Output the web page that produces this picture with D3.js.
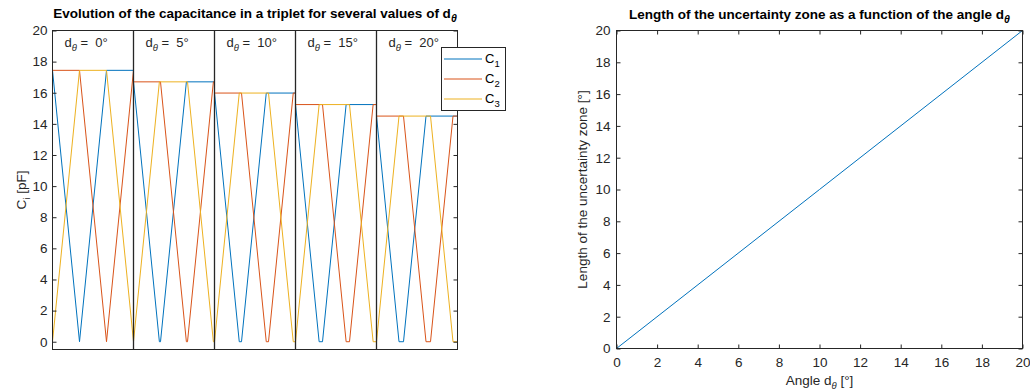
<!DOCTYPE html>
<html>
<head>
<meta charset="utf-8">
<script src="https://cdn.jsdelivr.net/npm/d3@7"></script>
<style>
  body { margin: 0; background: #fff; }
  svg { display: block; font-family: "Liberation Sans", Arial, Helvetica, sans-serif; }
</style>
</head>
<body>
<div id="chart"></div>
<script>
// ---- data ----
// left panel: one 360° block per value of d_theta, vertices [angle, C (pF)]
var deadZones = [0, 5, 10, 15, 20];
var blockSpan = 360;
var c1Points = [
    [0, 17.44], [120, 0], [240, 17.44], [360, 17.44],
    [360, 16.7], [475, 0], [480, 0], [595, 16.7], [720, 16.7],
    [720, 15.98], [830, 0], [840, 0], [950, 15.98], [1080, 15.98],
    [1080, 15.24], [1185, 0], [1200, 0], [1305, 15.24], [1440, 15.24],
    [1440, 14.5], [1540, 0], [1560, 0], [1660, 14.5], [1800, 14.5]
];
var c2Points = [
    [0, 17.44], [120, 17.44], [240, 0], [360, 17.44],
    [360, 16.7], [480, 16.7], [595, 0], [600, 0], [715, 16.7], [720, 16.7],
    [720, 15.98], [840, 15.98], [950, 0], [960, 0], [1070, 15.98], [1080, 15.98],
    [1080, 15.24], [1200, 15.24], [1305, 0], [1320, 0], [1425, 15.24], [1440, 15.24],
    [1440, 14.5], [1560, 14.5], [1660, 0], [1680, 0], [1780, 14.5], [1800, 14.5]
];
var c3Points = [
    [0, 0], [120, 17.44], [240, 17.44], [360, 0],
    [360, 0], [475, 16.7], [600, 16.7], [715, 0], [720, 0],
    [720, 0], [830, 15.98], [960, 15.98], [1070, 0], [1080, 0],
    [1080, 0], [1185, 15.24], [1320, 15.24], [1425, 0], [1440, 0],
    [1440, 0], [1540, 14.5], [1680, 14.5], [1780, 0], [1800, 0]
];
var seriesNames = ['1', '2', '3'];
var capTicks = [0, 2, 4, 6, 8, 10, 12, 14, 16, 18, 20];

// right panel: uncertainty zone length vs angle
var angles = [0, 5, 10, 15, 20];
var zoneLengths = [0, 5, 10, 15, 20];
var angleTicks = [0, 2, 4, 6, 8, 10, 12, 14, 16, 18, 20];
var lengthTicks = [0, 2, 4, 6, 8, 10, 12, 14, 16, 18, 20];

(function() {
    'use strict';

    var width = 1030, height = 392;
    var axisColor = '#262626';
    var colors = ['#0072bd', '#d95319', '#edb120'];
    var tickSize = 13.5;
    var labelSize = 13.5;
    var subSize = 9.5;

    var svg = d3.select('#chart').append('svg')
        .attr('width', width)
        .attr('height', height);

    function styleAxis(g) {
        g.attr('font-size', tickSize)
            .attr('font-family', null)
            .style('color', axisColor);
        g.select('.domain').remove();
    }

    // text with a subscript: parts = [[text, isSub, italic], ...]
    function richText(el, parts, sub, bold) {
        var down = false;
        parts.forEach(function(p) {
            var t = el.append('tspan').text(p[0]);
            if (p[1] && !down) { t.attr('dy', 4); down = true; }
            else if (!p[1] && down) { t.attr('dy', -4); down = false; }
            if (p[1]) t.attr('font-size', sub);
            if (p[2]) t.attr('font-style', 'italic');
        });
        if (bold) el.attr('font-weight', 'bold');
        return el;
    }

    // ---------- left panel ----------
    var L = { left: 52.5, right: 457.5, top: 30.5, bottom: 349.5 };
    var x1 = d3.scaleLinear().domain([0, blockSpan * deadZones.length]).range([L.left, L.right]);
    var y1 = d3.scaleLinear().domain([-0.5, 20]).range([L.bottom, L.top]);

    var left = svg.append('g');

    var line1 = d3.line()
        .x(function(d) { return x1(d[0]); })
        .y(function(d) { return y1(d[1]); });

    [c1Points, c2Points, c3Points].forEach(function(pts, i) {
        left.append('path')
            .datum(pts)
            .attr('d', line1)
            .attr('fill', 'none')
            .attr('stroke', colors[i])
            .attr('stroke-width', 1);
    });

    // block separators
    left.append('g')
        .selectAll('line')
        .data(deadZones.slice(1))
        .join('line')
        .attr('x1', function(d, i) { return x1((i + 1) * blockSpan); })
        .attr('x2', function(d, i) { return x1((i + 1) * blockSpan); })
        .attr('y1', L.top)
        .attr('y2', L.bottom)
        .attr('stroke', axisColor)
        .attr('stroke-width', 1.3);

    // block labels
    deadZones.forEach(function(d, i) {
        var t = left.append('text')
            .attr('x', x1(i * blockSpan) + 12)
            .attr('y', 47)
            .attr('font-size', 13)
            .attr('fill', axisColor);
        richText(t, [['d'], ['\u03b8', true, true], [' = \u00a0' + d + '\u00b0']], subSize);
    });

    left.append('g')
        .attr('transform', 'translate(' + L.left + ',0)')
        .call(d3.axisLeft(y1).tickValues(capTicks).tickSize(-4).tickPadding(5))
        .call(styleAxis);
    left.append('g')
        .attr('transform', 'translate(' + L.right + ',0)')
        .call(d3.axisRight(y1).tickValues(capTicks).tickSize(-4).tickFormat(''))
        .call(styleAxis);

    left.append('rect')
        .attr('x', L.left).attr('y', L.top)
        .attr('width', L.right - L.left).attr('height', L.bottom - L.top)
        .attr('fill', 'none')
        .attr('stroke', axisColor);

    var leftTitle = left.append('text')
        .attr('x', (L.left + L.right) / 2)
        .attr('y', 18)
        .attr('text-anchor', 'middle')
        .attr('font-size', labelSize)
        .attr('fill', '#000');
    richText(leftTitle, [['Evolution of the capacitance in a triplet for several values of d'], ['\u03b8', true, true]], 10.5, true);

    var leftYLabel = left.append('text')
        .attr('transform', 'translate(26,' + ((L.top + L.bottom) / 2) + ') rotate(-90)')
        .attr('text-anchor', 'middle')
        .attr('font-size', labelSize)
        .attr('fill', axisColor);
    richText(leftYLabel, [['C'], ['i', true], [' [pF]']], subSize);

    // legend
    var lg = left.append('g');
    lg.append('rect')
        .attr('x', 441.5).attr('y', 47.5)
        .attr('width', 64).attr('height', 63)
        .attr('fill', '#fff')
        .attr('stroke', axisColor);
    seriesNames.forEach(function(n, i) {
        var yy = 59 + i * 20;
        lg.append('line')
            .attr('x1', 444).attr('x2', 482)
            .attr('y1', yy).attr('y2', yy)
            .attr('stroke', colors[i]);
        var t = lg.append('text')
            .attr('x', 485)
            .attr('y', yy + 4)
            .attr('font-size', 13)
            .attr('fill', '#000');
        richText(t, [['C'], [n, true]], subSize);
    });

    // ---------- right panel ----------
    var R = { left: 616.5, right: 1022.5, top: 30.5, bottom: 348.5 };
    var x2 = d3.scaleLinear().domain([0, 20]).range([R.left, R.right]);
    var y2 = d3.scaleLinear().domain([0, 20]).range([R.bottom, R.top]);

    var right = svg.append('g');

    var line2 = d3.line()
        .x(function(d) { return x2(d.a); })
        .y(function(d) { return y2(d.l); });

    right.append('path')
        .datum(angles.map(function(a, i) { return { a: a, l: zoneLengths[i] }; }))
        .attr('d', line2)
        .attr('fill', 'none')
        .attr('stroke', colors[0])
        .attr('stroke-width', 1);

    right.append('g')
        .attr('transform', 'translate(' + R.left + ',0)')
        .call(d3.axisLeft(y2).tickValues(lengthTicks).tickSize(-4).tickPadding(6))
        .call(styleAxis);
    right.append('g')
        .attr('transform', 'translate(' + R.right + ',0)')
        .call(d3.axisRight(y2).tickValues(lengthTicks).tickSize(-4).tickFormat(''))
        .call(styleAxis);
    right.append('g')
        .attr('transform', 'translate(0,' + R.bottom + ')')
        .call(d3.axisBottom(x2).tickValues(angleTicks).tickSize(-4).tickPadding(9))
        .call(styleAxis);
    right.append('g')
        .attr('transform', 'translate(0,' + R.top + ')')
        .call(d3.axisTop(x2).tickValues(angleTicks).tickSize(-4).tickFormat(''))
        .call(styleAxis);

    right.append('rect')
        .attr('x', R.left).attr('y', R.top)
        .attr('width', R.right - R.left).attr('height', R.bottom - R.top)
        .attr('fill', 'none')
        .attr('stroke', axisColor);

    var rightTitle = right.append('text')
        .attr('x', (R.left + R.right) / 2)
        .attr('y', 19)
        .attr('text-anchor', 'middle')
        .attr('font-size', labelSize)
        .attr('fill', '#000');
    richText(rightTitle, [['Length of the uncertainty zone as a function of the angle d'], ['\u03b8', true, true]], 10.5, true);

    var xLabel = right.append('text')
        .attr('x', (R.left + R.right) / 2)
        .attr('y', 385)
        .attr('text-anchor', 'middle')
        .attr('font-size', labelSize)
        .attr('fill', axisColor);
    richText(xLabel, [['Angle d'], ['\u03b8', true, true], [' [\u00b0]']], subSize);

    var yLabel = right.append('text')
        .attr('transform', 'translate(587,' + ((R.top + R.bottom) / 2) + ') rotate(-90)')
        .attr('text-anchor', 'middle')
        .attr('font-size', labelSize)
        .attr('fill', axisColor);
    richText(yLabel, [['Length of the uncertainty zone [\u00b0]']], subSize);
})();
</script>
</body>
</html>
